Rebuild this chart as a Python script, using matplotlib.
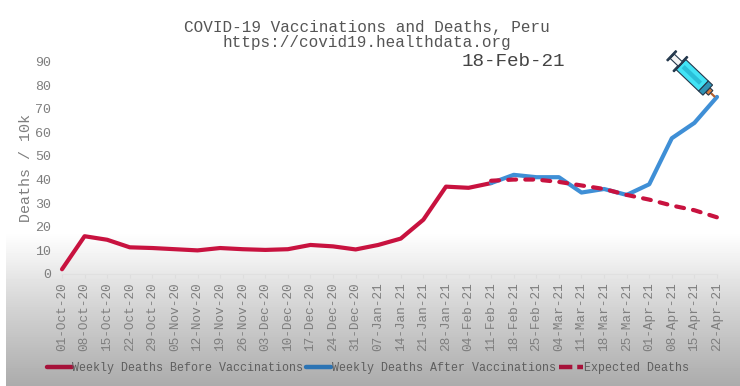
# -*- coding: utf-8 -*-
"""COVID-19 Vaccinations and Deaths, Peru."""
import numpy as np
import matplotlib
matplotlib.use('Agg')
import matplotlib.pyplot as plt
from matplotlib.lines import Line2D
from matplotlib.patches import Rectangle
from matplotlib.transforms import Affine2D

dates = ['01-Oct-20', '08-Oct-20', '15-Oct-20', '22-Oct-20', '29-Oct-20',
         '05-Nov-20', '12-Nov-20', '19-Nov-20', '26-Nov-20', '03-Dec-20',
         '10-Dec-20', '17-Dec-20', '24-Dec-20', '31-Dec-20', '07-Jan-21',
         '14-Jan-21', '21-Jan-21', '28-Jan-21', '04-Feb-21', '11-Feb-21',
         '18-Feb-21', '25-Feb-21', '04-Mar-21', '11-Mar-21', '18-Mar-21',
         '25-Mar-21', '01-Apr-21', '08-Apr-21', '15-Apr-21', '22-Apr-21']
before = [2, 16, 14.5, 11.3, 11, 10.5, 10, 11, 10.5, 10.2,
          10.5, 12.3, 11.7, 10.4, 12.3, 15, 23, 37, 36.5, 38.5]
after = [38.5, 42, 41, 41, 34.5, 36, 33.5, 38, 57.5, 64, 75]
expected = [39.5, 40, 40, 39, 37.5, 36, 33.5, 31.5, 29, 27, 24]
y_ticks = [0, 10, 20, 30, 40, 50, 60, 70, 80, 90]

RED = '#C8123F'
BLUE = '#3F8FD6'
GREY = '#7e7e7e'
MONO = 'Liberation Mono'
W, H = 740, 386

plt.rcParams['font.family'] = [MONO, 'DejaVu Sans']

fig = plt.figure(figsize=(W / 100, H / 100), dpi=100)

# fond : blanc puis degrade gris en bas
bg = fig.add_axes([0, 0, 1, 1], zorder=0)
shade = np.interp(np.arange(H), [0, 232, 260, 293, 326, 386], [1, 1, 0.94, 0.86, 0.79, 0.67])
bg.imshow(shade[:, None], cmap='gray', vmin=0, vmax=1, aspect='auto',
          extent=(6, W, H, 0))
bg.set_xlim(0, W)
bg.set_ylim(H, 0)
bg.axis('off')

# axe : x=0 a 62px, x=29 a 717px ; y=0 a 274px, y=90 a 61.5px
ax = fig.add_axes([62 / W, 1 - 274 / H, 655 / W, 212.5 / H], zorder=1)
ax.patch.set_alpha(0)
idx = np.arange(len(dates))
ax.plot(idx[:len(before)], before, color=RED, lw=3, solid_capstyle='round', clip_on=False)
ax.plot(idx[19:], after, color=BLUE, lw=3, solid_capstyle='round', clip_on=False)
ax.plot(idx[19:], expected, color=RED, lw=3, ls=(0, (1.9, 2.2)), dash_capstyle='round', clip_on=False)
ax.set_xlim(0, 29)
ax.set_ylim(0, 90)
ax.set_xticks(idx)
ax.set_xticklabels(dates, rotation=90, fontsize=9.2, color=GREY)
ax.set_yticks(y_ticks)
ax.tick_params(axis='x', length=3, color='#dddddd', pad=3)
ax.tick_params(axis='y', length=0, labelsize=9.6, labelcolor=GREY, pad=8)
ax.set_ylabel('Deaths / 10k', fontsize=10.8, color=GREY, labelpad=1)
for name in ['top', 'right', 'left']:
    ax.spines[name].set_visible(False)
ax.spines['bottom'].set_color('#e0e0e0')

fig.text(367 / W, 1 - 35 / H, 'COVID-19 Vaccinations and Deaths, Peru\nhttps://covid19.healthdata.org',
         ha='center', va='center', fontsize=11.5, color='#555555', linespacing=1.0)
fig.text(513 / W, 1 - 62 / H, '18-Feb-21', ha='center', va='center', fontsize=13.9, color='#444444')

handles = [Line2D([], [], color='#A6123A', lw=3.2, solid_capstyle='round'),
           Line2D([], [], color='#2C74B4', lw=3.2, solid_capstyle='round'),
           Line2D([], [], color='#A6123A', lw=3.2, ls=(0, (3, 1.1)))]
fig.legend(handles, ['Weekly Deaths Before Vaccinations', 'Weekly Deaths After Vaccinations', 'Expected Deaths'],
           loc='center left', bbox_to_anchor=(47 / W, 1 - 368 / H), ncol=3, frameon=False,
           fontsize=8.4, labelcolor='#5e5e5e', handlelength=2.1, handletextpad=0.08,
           columnspacing=0.25, borderpad=0, borderaxespad=0)

# seringue, dessinee en pixels le long de son axe (u depuis la pointe)
over = fig.add_axes([0, 0, 1, 1], zorder=2)
over.set_xlim(0, W)
over.set_ylim(H, 0)
over.axis('off')
place = Affine2D().rotate_deg(223.6).translate(715, 97) + over.transData
DARK = '#24384C'
parts = [(0, 6, 1.1, '#B5602E', 'none'),
         (6, 10, 3.2, '#D97B3C', DARK),
         (10, 16, 7, '#2F93B5', DARK),
         (16, 47, 7, '#41E3F5', DARK),
         (20, 44, 2.2, '#2BBFD8', 'none'),
         (47, 48.5, 10, DARK, DARK),
         (48, 59, 3, '#F4F4F4', DARK),
         (59, 60.5, 6.5, DARK, DARK)]
for u0, u1, half, face, edge in parts:
    over.add_patch(Rectangle((u0, -half), u1 - u0, 2 * half, facecolor=face, edgecolor=edge,
                             lw=0.8, transform=place))

fig.savefig('out.png', dpi=100)
